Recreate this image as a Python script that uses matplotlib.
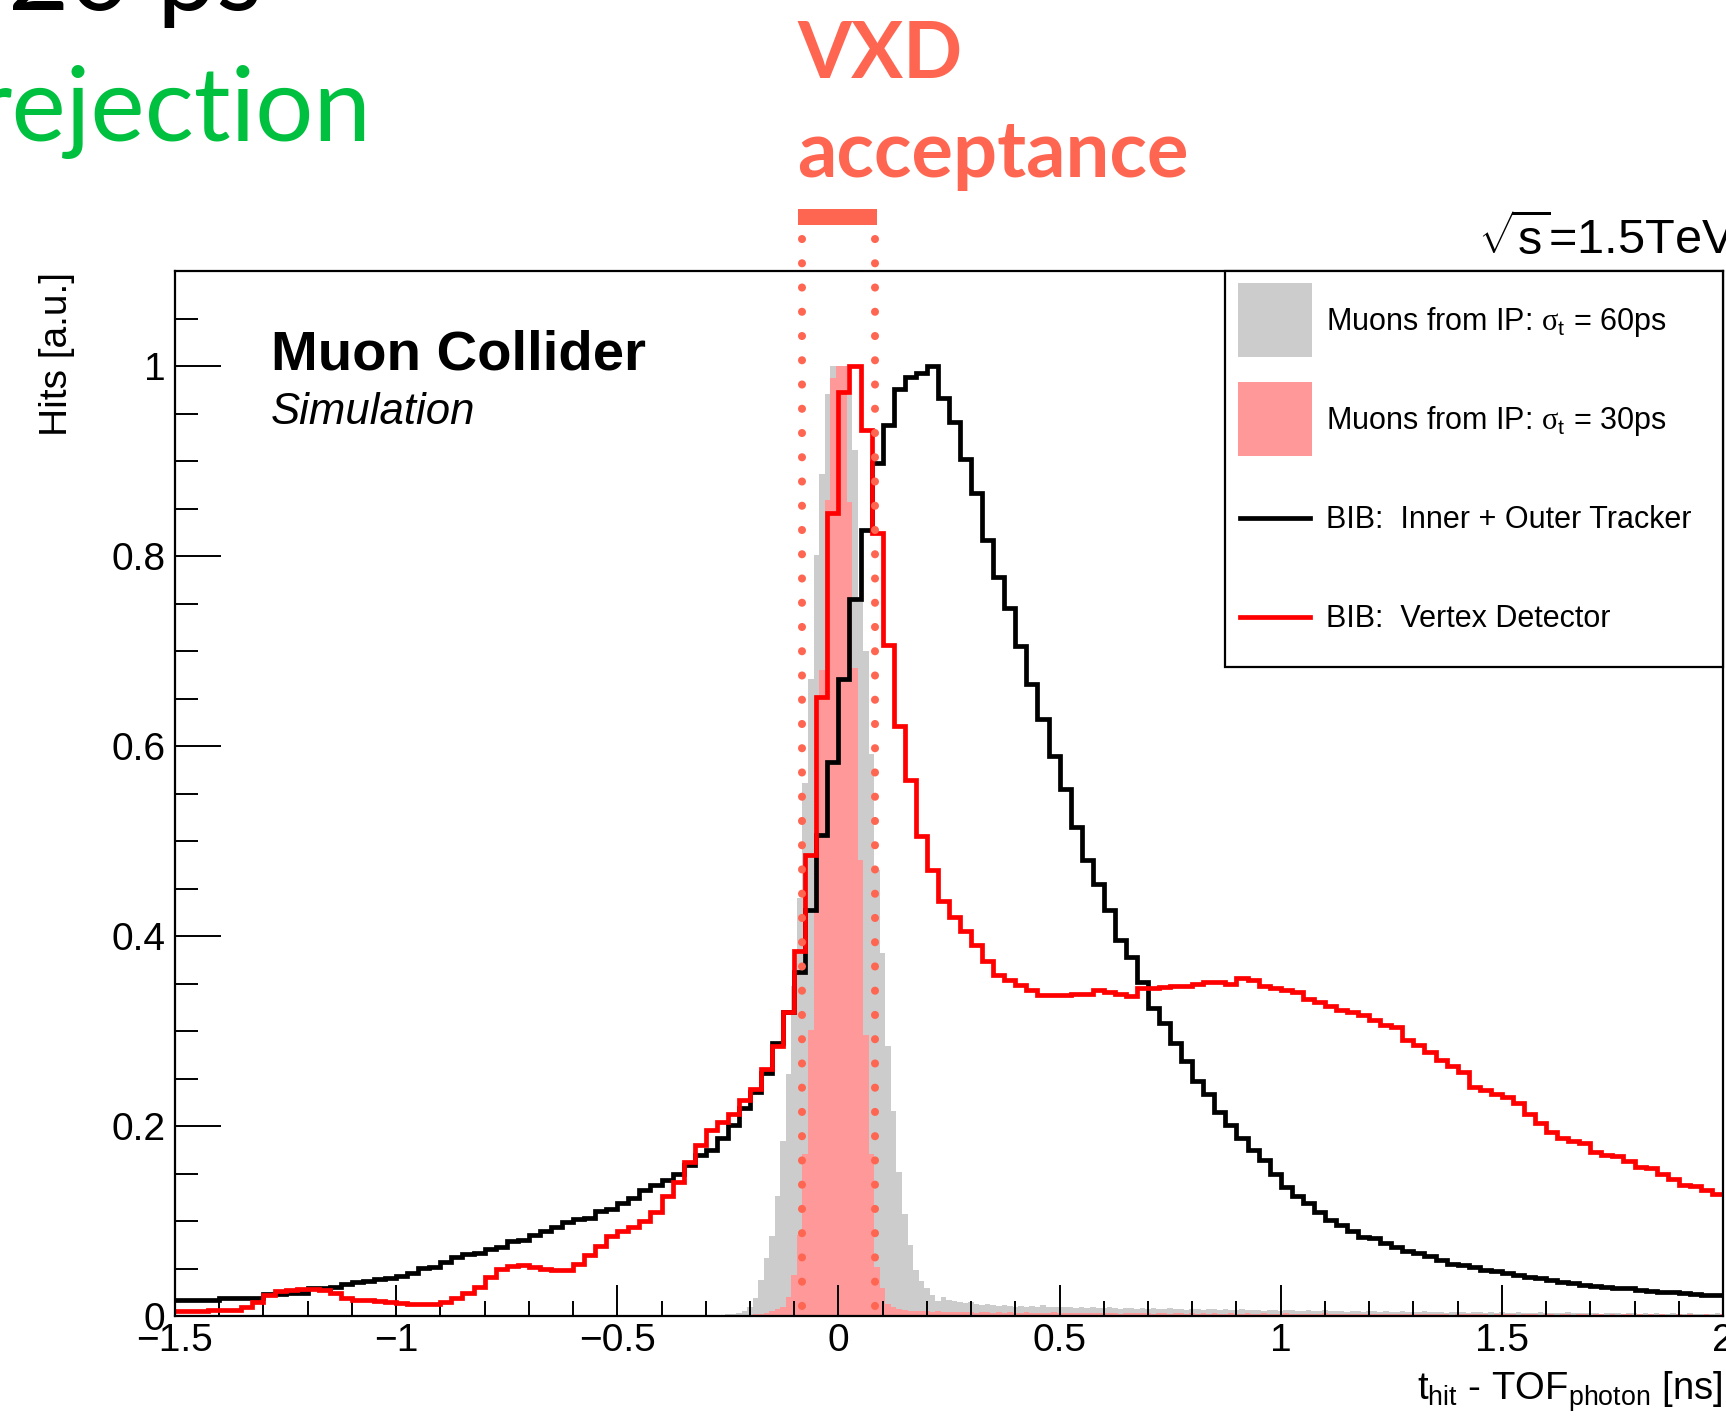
import numpy as np
import matplotlib
matplotlib.use("Agg")
import matplotlib.pyplot as plt
from matplotlib.patches import Rectangle
from matplotlib.ticker import MultipleLocator

plt.rcParams["font.family"] = ["Liberation Sans", "DejaVu Sans"]
plt.rcParams["mathtext.fontset"] = "custom"
plt.rcParams["mathtext.rm"] = "Liberation Sans"
plt.rcParams["mathtext.it"] = "Liberation Sans:italic"
plt.rcParams["mathtext.bf"] = "Liberation Sans:bold"
plt.rcParams["mathtext.sf"] = "Liberation Serif"

# BIB hit times, 25 ps bins over the plotted range
bib_edges = np.linspace(-1.5, 2.0, 141)
bib_tracker = [
    0.017, 0.017, 0.017, 0.017, 0.019, 0.019, 0.019, 0.019, 0.023, 0.023,
    0.024, 0.024, 0.029, 0.029, 0.031, 0.034, 0.036, 0.037, 0.039, 0.040,
    0.042, 0.045, 0.051, 0.052, 0.057, 0.062, 0.065, 0.066, 0.071, 0.073,
    0.079, 0.080, 0.085, 0.090, 0.094, 0.099, 0.102, 0.103, 0.111, 0.113,
    0.119, 0.124, 0.133, 0.138, 0.143, 0.150, 0.159, 0.169, 0.175, 0.187,
    0.201, 0.219, 0.236, 0.256, 0.287, 0.320, 0.362, 0.427, 0.506, 0.583,
    0.671, 0.755, 0.827, 0.898, 0.938, 0.976, 0.988, 0.993, 1.000, 0.966,
    0.941, 0.902, 0.866, 0.817, 0.778, 0.745, 0.705, 0.665, 0.628, 0.590,
    0.555, 0.515, 0.480, 0.455, 0.427, 0.396, 0.378, 0.352, 0.324, 0.308,
    0.287, 0.268, 0.247, 0.234, 0.215, 0.201, 0.187, 0.175, 0.164, 0.149,
    0.136, 0.126, 0.119, 0.110, 0.101, 0.096, 0.089, 0.083, 0.082, 0.077,
    0.073, 0.068, 0.066, 0.063, 0.059, 0.055, 0.054, 0.052, 0.048, 0.047,
    0.045, 0.043, 0.041, 0.040, 0.038, 0.036, 0.035, 0.033, 0.032, 0.031,
    0.030, 0.029, 0.027, 0.026, 0.025, 0.025, 0.024, 0.023, 0.022, 0.022,
]
bib_vertex = [
    0.005, 0.005, 0.005, 0.006, 0.006, 0.006, 0.010, 0.015, 0.022, 0.026,
    0.027, 0.028, 0.028, 0.027, 0.024, 0.019, 0.017, 0.017, 0.016, 0.015,
    0.014, 0.013, 0.013, 0.013, 0.015, 0.019, 0.024, 0.031, 0.041, 0.050,
    0.053, 0.054, 0.052, 0.049, 0.048, 0.048, 0.055, 0.064, 0.074, 0.084,
    0.090, 0.094, 0.100, 0.110, 0.126, 0.141, 0.162, 0.180, 0.196, 0.204,
    0.213, 0.227, 0.239, 0.260, 0.284, 0.320, 0.384, 0.485, 0.652, 0.845,
    0.973, 1.000, 0.933, 0.824, 0.706, 0.621, 0.564, 0.505, 0.469, 0.437,
    0.420, 0.405, 0.391, 0.374, 0.359, 0.354, 0.348, 0.343, 0.338, 0.338,
    0.338, 0.339, 0.339, 0.343, 0.341, 0.339, 0.337, 0.345, 0.345, 0.346,
    0.347, 0.347, 0.350, 0.352, 0.352, 0.350, 0.356, 0.354, 0.347, 0.345,
    0.343, 0.341, 0.334, 0.331, 0.326, 0.322, 0.320, 0.317, 0.312, 0.306,
    0.304, 0.291, 0.285, 0.278, 0.269, 0.263, 0.257, 0.241, 0.238, 0.234,
    0.231, 0.224, 0.213, 0.203, 0.194, 0.187, 0.184, 0.182, 0.173, 0.170,
    0.168, 0.163, 0.157, 0.156, 0.149, 0.144, 0.138, 0.137, 0.133, 0.128,
]

# muons from the IP, 12.5 ps bins centred on multiples of 12.5 ps (-0.3 ... 2.0 ns)
mu_edges = (np.arange(-24, 162) - 0.5) * 0.0125
mu_60ps = [
    0.000, 0.000, 0.001, 0.001, 0.002, 0.002, 0.003, 0.005, 0.009, 0.019,
    0.038, 0.061, 0.084, 0.126, 0.184, 0.255, 0.347, 0.440, 0.561, 0.671,
    0.801, 0.886, 0.971, 1.000, 1.000, 0.990, 0.969, 0.912, 0.752, 0.700,
    0.592, 0.469, 0.382, 0.284, 0.216, 0.152, 0.107, 0.075, 0.048, 0.037,
    0.029, 0.022, 0.016, 0.020, 0.017, 0.016, 0.015, 0.014, 0.015, 0.013,
    0.012, 0.013, 0.012, 0.011, 0.012, 0.011, 0.010, 0.011, 0.010, 0.011,
    0.010, 0.012, 0.010, 0.009, 0.010, 0.009, 0.009, 0.008, 0.009, 0.008,
    0.009, 0.008, 0.008, 0.009, 0.008, 0.007, 0.008, 0.008, 0.007, 0.008,
    0.007, 0.008, 0.007, 0.007, 0.008, 0.007, 0.007, 0.006, 0.007, 0.007,
    0.006, 0.007, 0.007, 0.006, 0.007, 0.006, 0.006, 0.007, 0.006, 0.006,
    0.006, 0.005, 0.006, 0.006, 0.005, 0.006, 0.006, 0.005, 0.005, 0.006,
    0.005, 0.005, 0.006, 0.005, 0.005, 0.005, 0.004, 0.005, 0.005, 0.004,
    0.005, 0.005, 0.004, 0.005, 0.004, 0.004, 0.005, 0.004, 0.004, 0.004,
    0.005, 0.004, 0.004, 0.004, 0.003, 0.004, 0.004, 0.004, 0.003, 0.004,
    0.004, 0.003, 0.004, 0.003, 0.004, 0.003, 0.003, 0.004, 0.003, 0.003,
    0.003, 0.004, 0.003, 0.003, 0.003, 0.003, 0.004, 0.003, 0.003, 0.003,
    0.003, 0.003, 0.002, 0.003, 0.003, 0.003, 0.002, 0.003, 0.003, 0.002,
    0.003, 0.002, 0.003, 0.002, 0.002, 0.003, 0.002, 0.002, 0.003, 0.002,
    0.002, 0.002, 0.002, 0.003, 0.002,
]
mu_30ps = [
    0.000, 0.000, 0.000, 0.000, 0.000, 0.000, 0.001, 0.001, 0.001, 0.002,
    0.002, 0.003, 0.005, 0.007, 0.010, 0.020, 0.043, 0.085, 0.171, 0.301,
    0.500, 0.680, 0.859, 0.987, 1.000, 1.000, 0.857, 0.682, 0.480, 0.296,
    0.171, 0.052, 0.029, 0.013, 0.009, 0.007, 0.006, 0.005, 0.005, 0.005,
    0.005, 0.004, 0.005, 0.004, 0.004, 0.004, 0.004, 0.004, 0.004, 0.003,
    0.004, 0.004, 0.003, 0.004, 0.003, 0.004, 0.003, 0.003, 0.004, 0.003,
    0.003, 0.003, 0.003, 0.004, 0.003, 0.003, 0.003, 0.003, 0.003, 0.003,
    0.003, 0.003, 0.003, 0.003, 0.003, 0.002, 0.003, 0.003, 0.003, 0.003,
    0.003, 0.002, 0.003, 0.003, 0.002, 0.003, 0.003, 0.002, 0.003, 0.002,
    0.003, 0.002, 0.003, 0.002, 0.002, 0.003, 0.002, 0.002, 0.003, 0.002,
    0.002, 0.003, 0.002, 0.002, 0.002, 0.003, 0.002, 0.002, 0.002, 0.002,
    0.002, 0.002, 0.003, 0.002, 0.002, 0.002, 0.002, 0.002, 0.002, 0.002,
    0.002, 0.002, 0.002, 0.002, 0.002, 0.002, 0.002, 0.002, 0.002, 0.002,
    0.002, 0.002, 0.002, 0.002, 0.002, 0.001, 0.002, 0.002, 0.002, 0.002,
    0.002, 0.002, 0.001, 0.002, 0.002, 0.002, 0.002, 0.001, 0.002, 0.002,
    0.002, 0.001, 0.002, 0.002, 0.001, 0.002, 0.002, 0.001, 0.002, 0.002,
    0.001, 0.002, 0.002, 0.001, 0.002, 0.001, 0.002, 0.002, 0.001, 0.002,
    0.001, 0.002, 0.001, 0.002, 0.001, 0.001, 0.002, 0.001, 0.002, 0.001,
    0.001, 0.002, 0.001, 0.001, 0.002,
]

vxd_window = (-0.082, 0.082)

xticks = [-1.5, -1.0, -0.5, 0.0, 0.5, 1.0, 1.5, 2.0]
xtick_labels = ["\u22121.5", "\u22121", "\u22120.5", "0", "0.5", "1", "1.5", "2"]
yticks = [0.0, 0.2, 0.4, 0.6, 0.8, 1.0]
ytick_labels = ["0", "0.2", "0.4", "0.6", "0.8", "1"]

legend_entries = [
    ("fill", "#cccccc", r"Muons from IP: $\mathsf{\sigma}_{\mathrm{t}}$ = 60ps"),
    ("fill", "#ff9999", r"Muons from IP: $\mathsf{\sigma}_{\mathrm{t}}$ = 30ps"),
    ("line", "black", "BIB:  Inner + Outer Tracker"),
    ("line", "#ff0000", "BIB:  Vertex Detector"),
]

W, H = 1726, 1418
ACC = "#ff6652"
HIST_LW = 3.4


def fx(px):
    return px / W


def fy(py):
    return 1 - py / H


fig = plt.figure(figsize=(W / 100, H / 100), dpi=100)
ax = fig.add_axes([fx(175), fy(1316), (1723 - 175) / W, (1316 - 271) / H])

ax.stairs(mu_60ps, mu_edges, fill=True, color="#cccccc", lw=0, zorder=1)
ax.stairs(mu_30ps, mu_edges, fill=True, color="#ff9999", lw=0, zorder=1.1)
ax.stairs(bib_tracker, bib_edges, baseline=None, color="black", lw=HIST_LW,
          joinstyle="miter", zorder=2)
ax.stairs(bib_vertex, bib_edges, baseline=None, color="#ff0000", lw=HIST_LW,
          joinstyle="miter", zorder=2.1)

# VXD acceptance window: dotted edges plus a bar above the frame
for xw in vxd_window:
    ax.plot([xw, xw], [1.1337, 0.0], color=ACC, lw=5.8, ls=(0, (0.01, 3.0)),
            dash_capstyle="round", clip_on=False, zorder=3)
ax.add_patch(Rectangle((vxd_window[0] - 0.010, 1.148),
                       vxd_window[1] - vxd_window[0] + 0.015, 0.017,
                       color=ACC, lw=0, clip_on=False))

ax.set_xlim(-1.5, 2.0)
ax.set_ylim(0, 1.1)
ax.set_xticks(xticks)
ax.set_xticklabels(xtick_labels)
ax.set_yticks(yticks)
ax.set_yticklabels(ytick_labels)
ax.xaxis.set_minor_locator(MultipleLocator(0.1))
ax.yaxis.set_minor_locator(MultipleLocator(0.05))
ax.tick_params(axis="x", which="major", direction="in", length=22, width=1.4,
               labelsize=28, pad=5)
ax.tick_params(axis="x", which="minor", direction="in", length=11, width=1.4)
ax.tick_params(axis="y", which="major", direction="in", length=33, width=1.4,
               labelsize=28, pad=7)
ax.tick_params(axis="y", which="minor", direction="in", length=16.5, width=1.4)
for sp in ax.spines.values():
    sp.set_linewidth(1.6)

fig.text(fx(67), fy(272), "Hits [a.u.]", rotation=90, rotation_mode="anchor",
         ha="right", va="baseline", fontsize=28)
fig.text(fx(1723), fy(1400), r"t$_{\mathrm{hit}}$ - TOF$_{\mathrm{photon}}$ [ns]",
         ha="right", va="baseline", fontsize=27.5)

fig.text(fx(271), fy(369), "Muon Collider", fontsize=40.5, fontweight="bold",
         va="baseline")
fig.text(fx(271), fy(424), "Simulation", fontsize=31.5, fontstyle="italic",
         va="baseline")
fig.text(fx(1478), fy(255), r"$\sqrt{\mathrm{s}}$=1.5TeV", fontsize=35,
         va="baseline")

# legend box
fig.patches.append(Rectangle((fx(1224.5), fy(667)), (1723 - 1224.5) / W,
                             (667 - 271) / H, transform=fig.transFigure,
                             facecolor="white", edgecolor="black", lw=1.6,
                             zorder=5))
row_y = [320, 419, 518, 617]
for (kind, col, label), yc in zip(legend_entries, row_y):
    if kind == "fill":
        fig.patches.append(Rectangle((fx(1238), fy(yc + 37)), 74 / W, 74 / H,
                                     transform=fig.transFigure, color=col,
                                     lw=0, zorder=6))
    else:
        fig.lines.append(plt.Line2D([fx(1240), fx(1310)], [fy(yc), fy(yc)],
                                    transform=fig.transFigure, color=col,
                                    lw=HIST_LW, zorder=6))
    fig.text(fx(1326), fy(yc + 10), label, fontsize=22, va="baseline",
             zorder=7)

# overlay annotations
fig.text(fx(797), fy(78), "VXD", family="Lato", fontweight="bold",
         fontsize=56, color=ACC, va="baseline")
fig.text(fx(797), fy(177), "acceptance", family="Lato", fontweight="bold",
         fontsize=56, color=ACC, va="baseline")
fig.text(fx(372), fy(141), "rejection", family="Lato", fontsize=74,
         color="#00c040", ha="right", va="baseline")
fig.text(fx(262), fy(10), "20 ps", family="Lato", fontsize=76,
         color="black", ha="right", va="baseline")

fig.savefig("out.png", dpi=100)
